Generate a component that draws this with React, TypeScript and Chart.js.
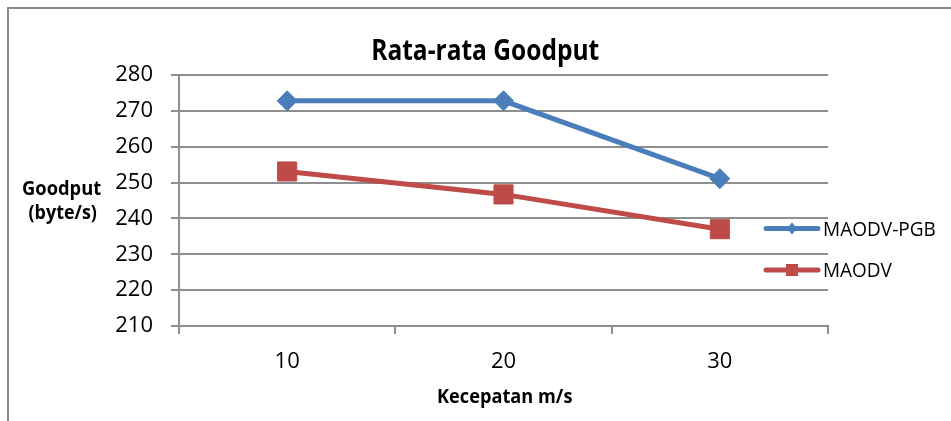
import React, { useEffect, useRef } from "react";
import { Chart, registerables } from "chart.js";

Chart.register(...registerables);

const categories = ["10", "20", "30"];
const seriesNames = ["MAODV-PGB", "MAODV"];
const maodvPgb = [272.8, 272.8, 251.1];
const maodv = [253.1, 246.7, 237.0];
const yMin = 210;
const yMax = 280;
const yStep = 10;
const chartTitle = "Rata-rata Goodput";
const yTitleLines = ["Goodput", "(byte/s)"];
const xTitle = "Kecepatan m/s";

const BLUE = "#4A7EBB";
const RED = "#BE4B48";
const GRID = "#8e8e8e";

function fitText(
  ctx: CanvasRenderingContext2D,
  text: string,
  x: number,
  baseline: number,
  font: string,
  targetW: number,
  align: "center" | "left"
) {
  ctx.save();
  ctx.font = font;
  ctx.textAlign = "left";
  ctx.textBaseline = "alphabetic";
  const m = ctx.measureText(text);
  const inkW = m.actualBoundingBoxLeft + m.actualBoundingBoxRight;
  const sx = targetW / inkW;
  ctx.translate(x, baseline);
  ctx.scale(sx, 1);
  const x0 =
    align === "center"
      ? (m.actualBoundingBoxLeft - m.actualBoundingBoxRight) / 2
      : m.actualBoundingBoxLeft;
  ctx.fillStyle = "#000";
  ctx.fillText(text, x0, 0);
  ctx.restore();
}

const decorPlugin = {
  id: "decor",
  beforeDraw(chart: any) {
    const ctx = chart.ctx as CanvasRenderingContext2D;
    ctx.save();
    ctx.fillStyle = "#fff";
    ctx.fillRect(0, 0, chart.width, chart.height);
    ctx.fillStyle = "#8a8a8a";
    ctx.fillRect(7, 7, chart.width - 7, 2);
    ctx.fillRect(7, 7, 2, chart.height - 7);
    ctx.restore();
  },
  afterDraw(chart: any) {
    const ctx = chart.ctx as CanvasRenderingContext2D;
    const bold = (s: number) => `bold ${s}px "Open Sans"`;
    fitText(ctx, chartTitle, 486, 60, bold(28), 226, "center");
    fitText(ctx, yTitleLines[0], 62, 195, bold(19), 78, "center");
    fitText(ctx, yTitleLines[1], 62.5, 219, bold(19), 68, "center");
    fitText(ctx, xTitle, 505, 403, bold(19), 134, "center");

    // legend
    const items = [
      { name: seriesNames[0], color: BLUE, y: 228.5, marker: "diamond", w: 111 },
      { name: seriesNames[1], color: RED, y: 270, marker: "square", w: 68 },
    ];
    items.forEach((it) => {
      ctx.save();
      ctx.strokeStyle = it.color;
      ctx.lineWidth = 5;
      ctx.lineCap = "round";
      ctx.beginPath();
      ctx.moveTo(766, it.y);
      ctx.lineTo(818, it.y);
      ctx.stroke();
      ctx.fillStyle = it.color;
      if (it.marker === "diamond") {
        ctx.beginPath();
        ctx.moveTo(792, it.y - 6);
        ctx.lineTo(797, it.y);
        ctx.lineTo(792, it.y + 6);
        ctx.lineTo(787, it.y);
        ctx.closePath();
        ctx.fill();
      } else {
        ctx.fillRect(786, it.y - 6, 12, 12);
      }
      ctx.restore();
      fitText(ctx, it.name, 824, it.y + 7, `20px "Open Sans"`, it.w, "left");
    });
  },
};

export default function App() {
  const ref = useRef<HTMLCanvasElement | null>(null);
  useEffect(() => {
    if (!ref.current) return;
    const chart = new Chart(ref.current, {
      type: "line",
      data: {
        labels: categories,
        datasets: [
          {
            label: seriesNames[0],
            data: maodvPgb,
            borderColor: BLUE,
            backgroundColor: BLUE,
            borderWidth: 5,
            pointStyle: "rectRot",
            pointRadius: 10,
            pointBorderWidth: 1,
            pointBackgroundColor: BLUE,
            pointBorderColor: BLUE,
            tension: 0,
          },
          {
            label: seriesNames[1],
            data: maodv,
            borderColor: RED,
            backgroundColor: RED,
            borderWidth: 5,
            pointStyle: "rect",
            pointRadius: 13.5,
            pointBorderWidth: 1,
            pointBackgroundColor: RED,
            pointBorderColor: RED,
            tension: 0,
          },
        ],
      },
      options: {
        animation: false,
        responsive: false,
        devicePixelRatio: 1,
        layout: { padding: { top: 75, right: 123, left: 0, bottom: 0 } },
        plugins: {
          legend: { display: false },
          title: { display: false },
          tooltip: { enabled: false },
        },
        scales: {
          x: {
            type: "category",
            offset: true,
            afterFit: (s: any) => {
              s.height = 95;
            },
            grid: {
              offset: true,
              drawOnChartArea: false,
              drawTicks: true,
              tickLength: 8,
              color: GRID,
              lineWidth: 2,
            },
            border: { display: true, color: GRID, width: 2 },
            ticks: {
              padding: 15,
              color: "#000",
              font: { family: "Open Sans", size: 22 },
              maxRotation: 0,
            },
          },
          y: {
            min: yMin,
            max: yMax,
            afterFit: (s: any) => {
              s.width = 179;
            },
            ticks: {
              stepSize: yStep,
              padding: 18,
              color: "#000",
              font: { family: "Open Sans", size: 22 },
            },
            grid: {
              color: GRID,
              lineWidth: 2,
              tickLength: 8,
              drawTicks: true,
            },
            border: { display: true, color: GRID, width: 2 },
          },
        },
      },
      plugins: [decorPlugin],
    });
    return () => chart.destroy();
  }, []);
  return (
    <div style={{ position: "fixed", left: 0, top: 0, width: 951, height: 421 }}>
      <canvas ref={ref} width={951} height={421} style={{ display: "block" }} />
    </div>
  );
}
